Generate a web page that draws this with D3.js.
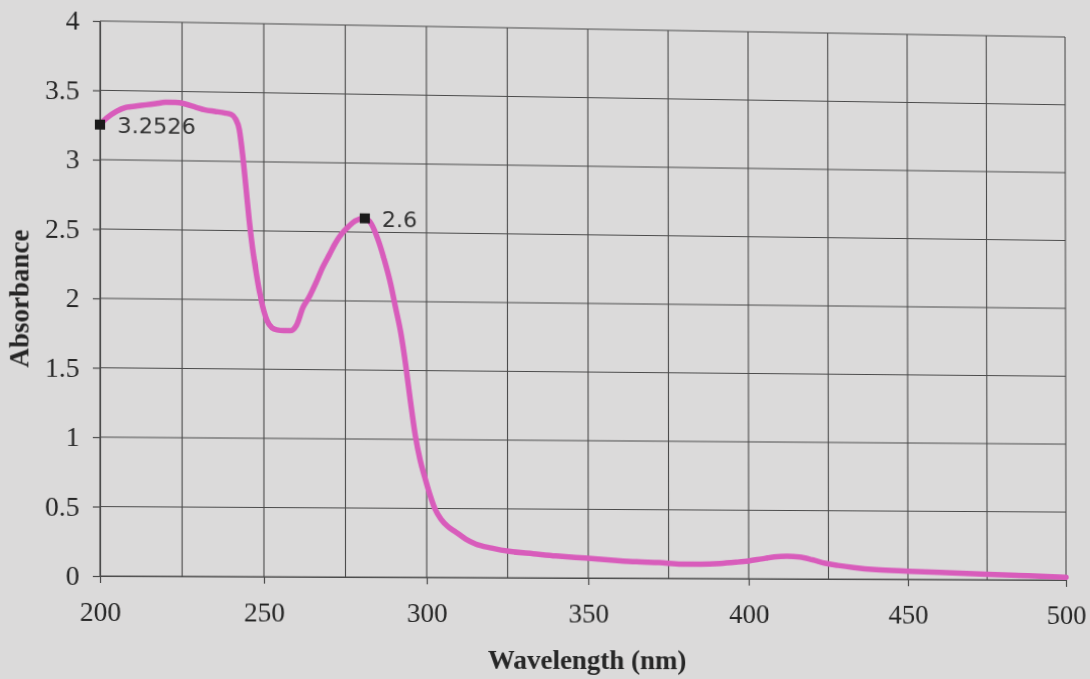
<!DOCTYPE html>
<html>
<head>
<meta charset="utf-8">
<script src="https://cdn.jsdelivr.net/npm/d3@7"></script>
<style>
  html, body { margin: 0; padding: 0; background: #dbdada; }
  svg { display: block; transform-origin: 0 0; }
</style>
</head>
<body>
<svg id="chart" width="1090" height="679"></svg>
<script>
// UV-Vis absorbance spectrum
const wavelength = [200, 202, 205, 208, 211, 214, 217, 220, 223, 226, 229, 232, 235, 238, 240, 241.3, 242.5,
  243.5, 244.5, 245.5, 246.5, 247.5, 248.5, 250, 251, 252.5, 254, 256, 258, 260, 262, 264, 266, 268, 270,
  272, 274, 276, 278, 281, 283, 285, 287, 289, 290.5, 292, 293.5, 295, 296.5, 298, 299.5, 301, 302.5,
  304.5, 306.5, 309, 312, 315, 320, 326, 333, 340, 346, 352, 358, 365, 372, 379, 385, 391, 396, 400, 404,
  408, 412, 416, 420, 424, 428, 433, 440, 450, 462, 475, 488, 500];
const absorbance = [3.2526, 3.30, 3.35, 3.38, 3.39, 3.40, 3.41, 3.42, 3.42, 3.41, 3.39, 3.37, 3.36, 3.35, 3.34, 3.31, 3.23,
  3.05, 2.82, 2.58, 2.38, 2.22, 2.08, 1.92, 1.85, 1.80, 1.785, 1.78, 1.78, 1.82, 1.95, 2.03, 2.13, 2.24, 2.33,
  2.42, 2.49, 2.54, 2.58, 2.60, 2.56, 2.45, 2.30, 2.12, 1.95, 1.78, 1.55, 1.28, 1.03, 0.85, 0.72, 0.60, 0.50,
  0.42, 0.37, 0.33, 0.28, 0.245, 0.215, 0.19, 0.175, 0.16, 0.15, 0.14, 0.13, 0.12, 0.115, 0.105, 0.105, 0.11, 0.12, 0.13, 0.145,
  0.16, 0.165, 0.16, 0.14, 0.115, 0.10, 0.085, 0.07, 0.06, 0.05, 0.04, 0.03, 0.02];

// labelled points
const markerWavelengths = [200, 281];
const markerValues = [3.2526, 2.6];
const markerLabels = ["3.2526", "2.6"];

// axes
const xTickValues = [200, 250, 300, 350, 400, 450, 500];
const xGridValues = [200, 225, 250, 275, 300, 325, 350, 375, 400, 425, 450, 475, 500];
const yTickValues = [0, 0.5, 1, 1.5, 2, 2.5, 3, 3.5, 4];
const xTitle = "Wavelength (nm)";
const yTitle = "Absorbance";

// layout
const plotLeft = 100, plotRight = 1066, plotTop = 21, plotBottom = 577;
const lineColor = "#d85cbb";
const gridColor = "#4a4a4a";
const serif = "'Liberation Serif', 'Times New Roman', serif";

const svg = d3.select("#chart");
const x = d3.scaleLinear().domain([200, 500]).range([plotLeft, plotRight]);
const y = d3.scaleLinear().domain([0, 4]).range([plotBottom, plotTop]);

// grid
const grid = svg.append("g");
grid.selectAll("line.v").data(xGridValues).join("line")
  .attr("x1", d => x(d)).attr("x2", d => x(d))
  .attr("y1", y(4)).attr("y2", y(0))
  .attr("stroke", gridColor).attr("stroke-width", 1.1);
grid.selectAll("line.h").data(yTickValues).join("line")
  .attr("x1", x(200)).attr("x2", x(500))
  .attr("y1", d => y(d)).attr("y2", d => y(d))
  .attr("stroke", gridColor).attr("stroke-width", 1.1);

// x axis
const xAxis = svg.append("g")
  .attr("transform", `translate(0,${y(0)})`)
  .call(d3.axisBottom(x).tickValues(xTickValues).tickFormat(d3.format("d"))
    .tickSize(7).tickSizeOuter(0).tickPadding(19));
xAxis.select(".domain").attr("stroke", gridColor).attr("stroke-width", 1.2);
xAxis.selectAll(".tick line").attr("stroke", gridColor).attr("stroke-width", 1.2);
xAxis.selectAll(".tick text").attr("font-family", serif).attr("font-size", 27).attr("fill", "#262626");

// y axis
const yAxis = svg.append("g")
  .attr("transform", `translate(${x(200)},0)`)
  .call(d3.axisLeft(y).tickValues(yTickValues).tickFormat(d => String(d))
    .tickSize(7).tickSizeOuter(0).tickPadding(13));
yAxis.select(".domain").attr("stroke", gridColor).attr("stroke-width", 1.2);
yAxis.selectAll(".tick line").attr("stroke", gridColor).attr("stroke-width", 1.2);
yAxis.selectAll(".tick text").attr("font-family", serif).attr("font-size", 27).attr("fill", "#262626");

// axis titles
svg.append("text")
  .attr("x", 582).attr("y", 669)
  .attr("text-anchor", "middle")
  .attr("font-family", serif).attr("font-weight", "bold").attr("font-size", 27)
  .attr("fill", "#262626")
  .text(xTitle);
svg.append("text")
  .attr("transform", "translate(30,300) rotate(-90)")
  .attr("text-anchor", "middle")
  .attr("font-family", serif).attr("font-weight", "bold").attr("font-size", 27)
  .attr("fill", "#262626")
  .text(yTitle);

// spectrum
const points = wavelength.map((w, i) => [w, absorbance[i]]);
svg.append("path")
  .datum(points)
  .attr("fill", "none")
  .attr("stroke", lineColor)
  .attr("stroke-width", 5.5)
  .attr("stroke-linejoin", "round")
  .attr("stroke-linecap", "round")
  .attr("d", d3.line().x(d => x(d[0])).y(d => y(d[1])).curve(d3.curveMonotoneX));

// markers and value labels
const markers = markerWavelengths.map((w, i) => ({ w, v: markerValues[i], label: markerLabels[i] }));
svg.selectAll("rect.marker").data(markers).join("rect")
  .attr("x", d => x(d.w) - 5).attr("y", d => y(d.v) - 5)
  .attr("width", 10).attr("height", 10)
  .attr("fill", "#1a1a1a");
svg.selectAll("text.mlabel").data(markers).join("text")
  .attr("x", d => x(d.w) + 17).attr("y", d => y(d.v) + 8)
  .attr("font-family", "'DejaVu Sans', sans-serif").attr("font-size", 22)
  .attr("fill", "#333")
  .text(d => d.label);

// slight perspective tilt of the sheet: map the plot corners with a homography
function homography(src, dst) {
  const A = [], b = [];
  for (let i = 0; i < 4; i++) {
    const [sx, sy] = src[i], [dx, dy] = dst[i];
    A.push([sx, sy, 1, 0, 0, 0, -sx * dx, -sy * dx]); b.push(dx);
    A.push([0, 0, 0, sx, sy, 1, -sx * dy, -sy * dy]); b.push(dy);
  }
  const n = 8;
  for (let c = 0; c < n; c++) {
    let p = c;
    for (let r = c + 1; r < n; r++) if (Math.abs(A[r][c]) > Math.abs(A[p][c])) p = r;
    [A[c], A[p]] = [A[p], A[c]]; [b[c], b[p]] = [b[p], b[c]];
    for (let r = 0; r < n; r++) {
      if (r === c) continue;
      const f = A[r][c] / A[c][c];
      for (let k = c; k < n; k++) A[r][k] -= f * A[c][k];
      b[r] -= f * b[c];
    }
  }
  return b.map((v, i) => v / A[i][i]);
}
const h = homography(
  [[plotLeft, plotTop], [plotRight, plotTop], [plotLeft, plotBottom], [plotRight, plotBottom]],
  [[plotLeft, plotTop], [plotRight - 1, plotTop + 16], [plotLeft, plotBottom - 1], [plotRight, plotBottom + 3]]
);
document.getElementById("chart").style.transform =
  `matrix3d(${h[0]},${h[3]},0,${h[6]},${h[1]},${h[4]},0,${h[7]},0,0,1,0,${h[2]},${h[5]},0,1)`;
</script>
</body>
</html>
